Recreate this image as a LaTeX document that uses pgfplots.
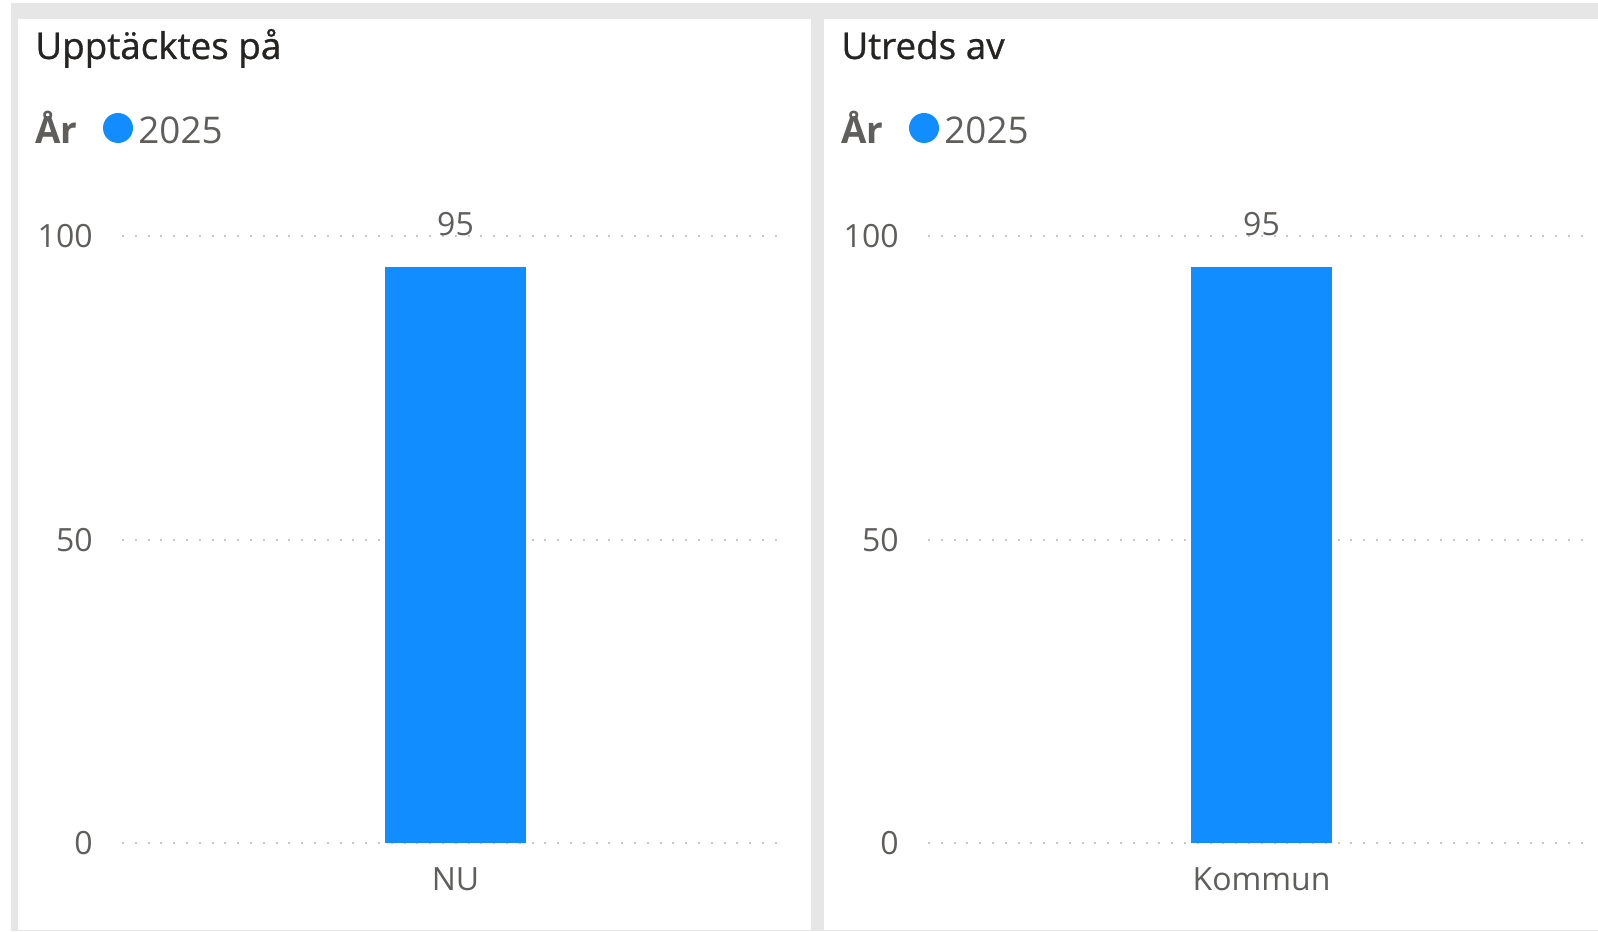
\documentclass[border=0pt]{standalone}
\usepackage{fontspec}
\setmainfont{Open Sans}
\usepackage{pgfplots}
\pgfplotsset{compat=1.18}
\definecolor{pbblue}{HTML}{118DFF}
\definecolor{pbgray}{HTML}{605E5C}
\definecolor{pbtitle}{HTML}{252423}
\definecolor{pbgrid}{HTML}{C8C8C8}
\definecolor{pbback}{HTML}{E6E6E6}

\newcommand{\titlefont}{\fontsize{18.4}{22}\selectfont\addfontfeature{FakeBold=0.8}}

% 1 px of the reference = 0.5pt
\pgfplotsset{
  pbbar/.style={
    scale only axis,
    width=331.5pt, height=303.25pt,
    anchor=south west,
    ymin=0, ymax=100,
    xmin=-1, xmax=0.988,
    ytick={0,50,100},
    xtick=data,
    ymajorgrids,
    grid style={pbgrid, line width=1pt, dash pattern=on 1pt off 5.4pt},
    axis line style={draw=none},
    major tick style={draw=none},
    /pgf/number format/assume math mode=true,
    tick label style={font=\fontsize{16}{18}\selectfont, text=pbgray},
    yticklabel style={anchor=east, inner sep=0pt, xshift=-14.5pt},
    xticklabel style={anchor=north, inner sep=0pt, yshift=-7.75pt},
    ybar, bar width=70.5pt,
    nodes near coords,
    nodes near coords style={font=\fontsize{16}{18}\selectfont, text=pbgray,
      fill=white, anchor=south, inner xsep=3pt, inner ysep=0pt, yshift=15.5pt},
  },
}

\begin{document}
\begin{tikzpicture}
\begin{scope}[x=0.5pt, y=0.5pt]
\useasboundingbox (0,0) rectangle (1598,931);
\fill[white] (0,0) rectangle (1598,931);
\fill[pbback] (11,0) rectangle (1598,928);
\fill[white] (18,1) rectangle (811,912);
\fill[white] (824,1) rectangle (1598,912);

% left panel
\node[anchor=base west, inner sep=0pt, text=pbtitle, font=\titlefont] at (35,872) {Upptäcktes på};
\node[anchor=base west, inner sep=0pt, text=pbgray, font=\fontsize{18.4}{22}\selectfont\bfseries] at (35,787) {År};
\fill[pbblue] (118,803) circle (15);
\node[anchor=base west, inner sep=0pt, text=pbgray, font=\fontsize{18.4}{22}\selectfont] at (138,787) {2025};

% right panel
\node[anchor=base west, inner sep=0pt, text=pbtitle, font=\titlefont] at (841,872) {Utreds av};
\node[anchor=base west, inner sep=0pt, text=pbgray, font=\fontsize{18.4}{22}\selectfont\bfseries] at (841,787) {År};
\fill[pbblue] (924,803) circle (15);
\node[anchor=base west, inner sep=0pt, text=pbgray, font=\fontsize{18.4}{22}\selectfont] at (944,787) {2025};
\end{scope}

\begin{axis}[pbbar, at={(61pt,44pt)}, xticklabels={NU}]
\addplot[fill=pbblue, draw=none] coordinates {(0,95)};
\end{axis}

\begin{axis}[pbbar, at={(464pt,44pt)}, xticklabels={Kommun}]
\addplot[fill=pbblue, draw=none] coordinates {(0,95)};
\end{axis}
\end{tikzpicture}
\end{document}
